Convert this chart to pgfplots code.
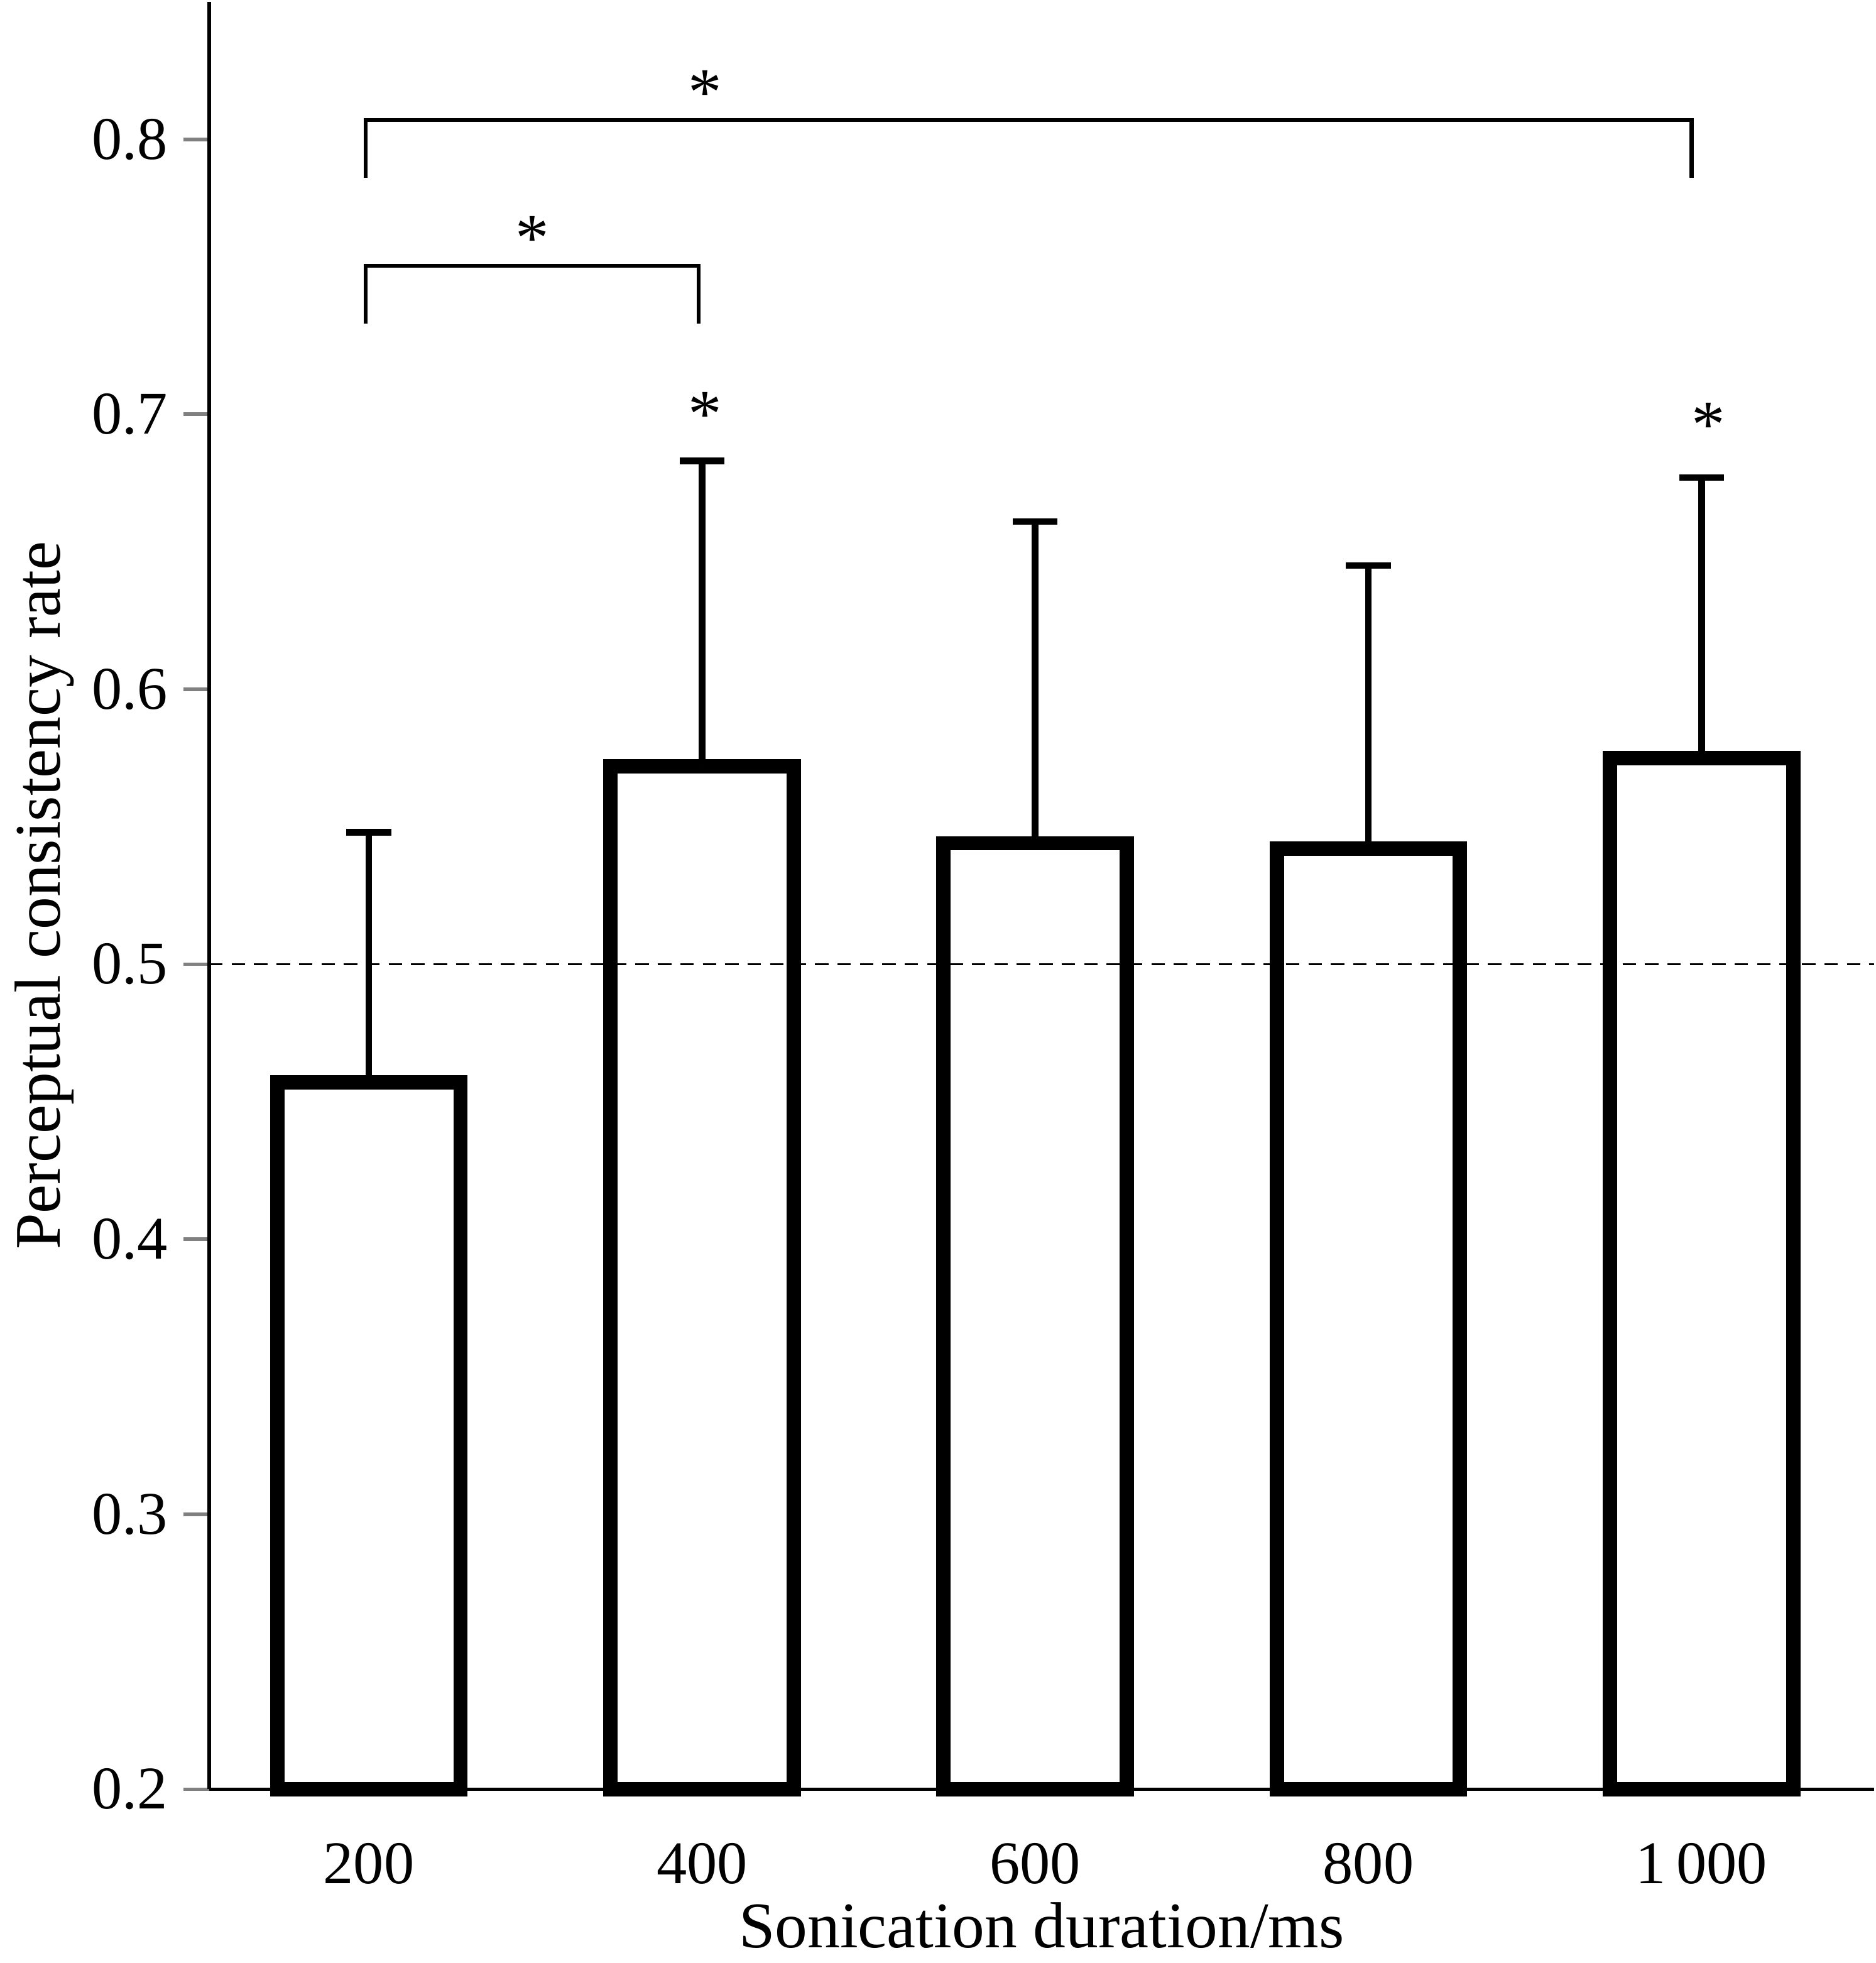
\documentclass[border=0pt]{standalone}
\usepackage{pgfplots}
\pgfplotsset{compat=1.18}
\usepackage{fontspec}
\setmainfont{Liberation Serif}
\begin{document}
\begin{tikzpicture}
\begin{axis}[
  scale only axis, width=130.4mm, height=140mm,
  xmin=-0.479, xmax=4.517, ymin=0.2, ymax=0.85,
  axis lines*=left, axis line style={line width=0.8pt},
  xtick={0,1,2,3,4}, xticklabels={200,400,600,800,1\,000},
  x tick style={draw=none},
  xticklabel style={yshift=-1mm},
  ytick={0.2,0.3,0.4,0.5,0.6,0.7,0.8},
  yticklabel style={/pgf/number format/fixed,/pgf/number format/precision=1},
  y tick style={line width=0.8pt}, tick align=outside, major tick length=2mm,
  ytick pos=left,
  /pgf/number format/assume math mode=true,
  tick label style={font=\fontsize{13.5}{15}\selectfont},
  label style={font=\fontsize{14.5}{16}\selectfont},
  xlabel={Sonication duration/ms}, ylabel={Perceptual consistency rate},
  xlabel style={yshift=1mm},
  ylabel style={yshift=-1mm},
  clip=false,
]
\addplot[ybar, bar width=0.55, bar shift=0pt, fill=white, draw=black, line width=3.2pt,
  error bars/.cd, y dir=plus, y explicit,
  error bar style={line width=1.5pt},
  error mark options={line width=1.5pt, mark size=5pt, rotate=90}]
coordinates {(0,0.457) +- (0,0.091) (1,0.572) +- (0,0.111) (2,0.544) +- (0,0.117) (3,0.542) +- (0,0.103) (4,0.575) +- (0,0.102)};
\draw[densely dashed, line width=0.5pt] (axis cs:-0.479,0.5) -- (axis cs:4.517,0.5);
\draw[line width=0.9pt] (axis cs:-0.01,0.786) -- (axis cs:-0.01,0.807) -- (axis cs:3.97,0.807) -- (axis cs:3.97,0.786);
\draw[line width=0.9pt] (axis cs:-0.01,0.733) -- (axis cs:-0.01,0.754) -- (axis cs:0.99,0.754) -- (axis cs:0.99,0.733);
\node[font=\fontsize{15}{17}\selectfont] at (axis cs:1.01,0.817) {*};
\node[font=\fontsize{15}{17}\selectfont] at (axis cs:0.49,0.764) {*};
\node[font=\fontsize{15}{17}\selectfont] at (axis cs:1.01,0.700) {*};
\node[font=\fontsize{15}{17}\selectfont] at (axis cs:4.02,0.696) {*};
\end{axis}
\end{tikzpicture}
\end{document}
